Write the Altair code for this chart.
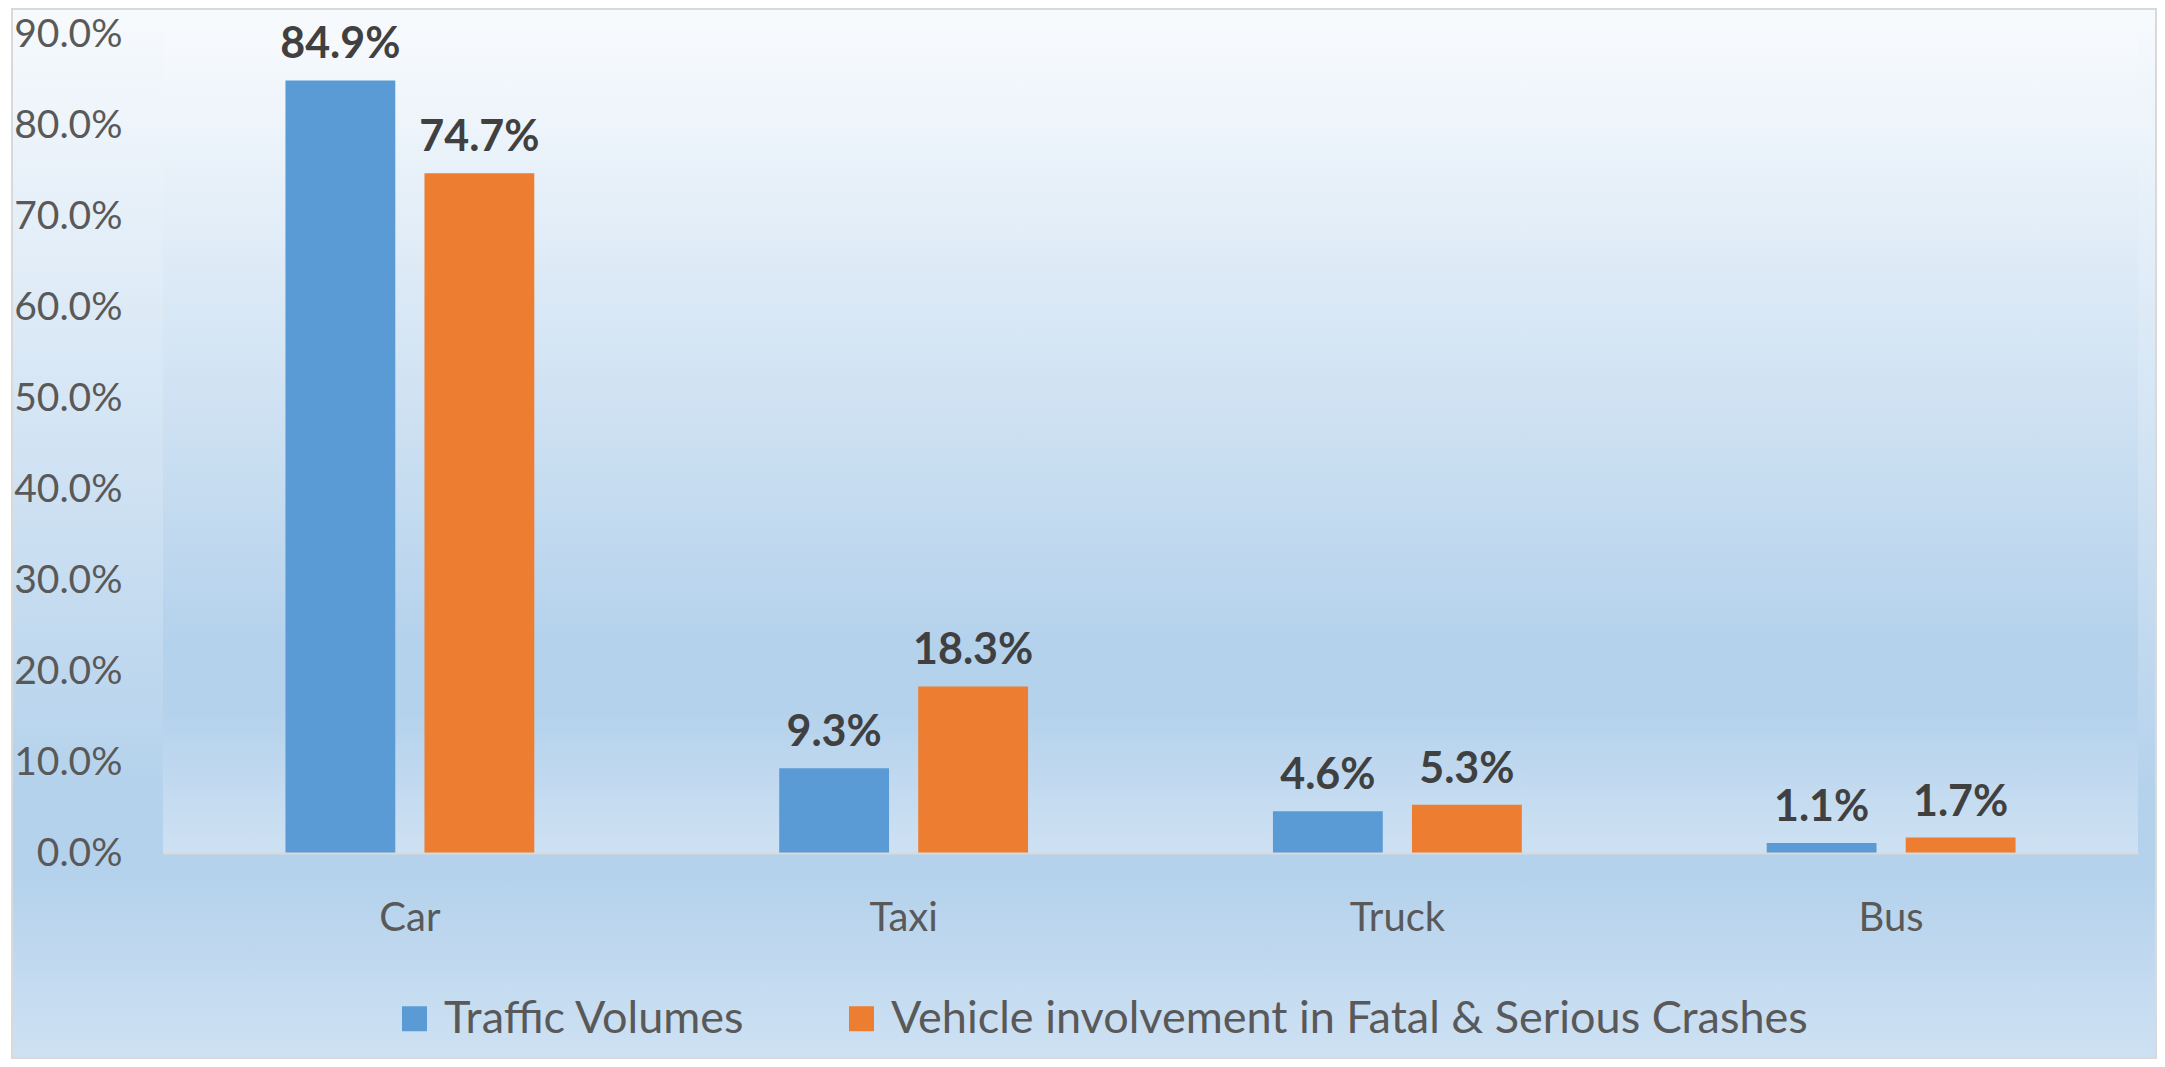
import altair as alt
import pandas as pd

categories = ["Car", "Taxi", "Truck", "Bus"]
series_names = ["Traffic Volumes", "Vehicle involvement in Fatal & Serious Crashes"]
traffic_volumes = [0.849, 0.093, 0.046, 0.011]
crash_involvement = [0.747, 0.183, 0.053, 0.017]
series_colors = ["#5B9BD5", "#ED7D31"]
y_ticks = [0.0, 0.1, 0.2, 0.3, 0.4, 0.5, 0.6, 0.7, 0.8, 0.9]

rows = []
for c, v in zip(categories, traffic_volumes):
    rows.append({"vehicle": c, "series": series_names[0], "value": v})
for c, v in zip(categories, crash_involvement):
    rows.append({"vehicle": c, "series": series_names[1], "value": v})
df = pd.DataFrame(rows)

W, H = 1975, 819
PAD = {"left": 155, "top": 26, "right": 19, "bottom": 206}

def grad():
    return alt.LinearGradient(
        gradient="linear", x1=0, y1=0, x2=0, y2=1,
        stops=[
            alt.GradientStop(offset=0, color="#F7FAFD"),
            alt.GradientStop(offset=0.74, color="#B5D2EC"),
            alt.GradientStop(offset=0.83, color="#B5D2EC"),
            alt.GradientStop(offset=1, color="#CEE1F3"),
        ],
    )

one = pd.DataFrame({"a": [0]})
outer_bg = alt.Chart(one).mark_rect(fill=grad(), stroke="#D9D9D9", strokeWidth=2).encode(
    x=alt.value(-PAD["left"] + 4), x2=alt.value(W + PAD["right"] - 1),
    y=alt.value(-PAD["top"] + 1), y2=alt.value(H + PAD["bottom"] - 1),
)
plot_bg = alt.Chart(one).mark_rect(fill=grad()).encode(
    x=alt.value(0), x2=alt.value(W), y=alt.value(0), y2=alt.value(H),
)

base = alt.Chart(df).encode(
    x=alt.X("vehicle:N", sort=categories,
            scale=alt.Scale(paddingInner=0.496, paddingOuter=0.248),
            axis=alt.Axis(title=None, labelAngle=0, labelFont="Lato", labelFontSize=40,
                          labelColor="#595959", labelPadding=45, labelBaseline="top",
                          ticks=False, tickSize=0, domainColor="#D9D9D9", domainWidth=2,
                          zindex=1)),
    xOffset=alt.XOffset("series:N", sort=series_names,
                        scale=alt.Scale(paddingInner=0.21, paddingOuter=0)),
    y=alt.Y("value:Q", scale=alt.Scale(domain=[0, 0.9], nice=False),
            axis=alt.Axis(title=None, format=".1%", values=y_ticks, labelFont="Lato",
                          labelFontSize=39, labelColor="#595959", labelPadding=41,
                          ticks=False, tickSize=0, domain=False, grid=False, zindex=1)),
)

bars = base.mark_bar().encode(
    color=alt.Color("series:N", sort=series_names,
                    scale=alt.Scale(domain=series_names, range=series_colors),
                    legend=alt.Legend(title=None, orient="none", legendX=229, legendY=962,
                                      direction="horizontal", symbolType="square",
                                      symbolSize=625, symbolStrokeWidth=0, symbolOpacity=1,
                                      labelFont="Lato", labelFontSize=45, labelColor="#595959",
                                      labelOffset=7, labelLimit=2000, columnPadding=93,
                                      padding=0, zindex=1))
)

labels = base.mark_text(font="Lato", fontWeight="bold", fontSize=43, color="#404040",
                        baseline="alphabetic", dy=-22).encode(
    text=alt.Text("value:Q", format=".1%")
)

chart = alt.layer(outer_bg, plot_bg, bars, labels).properties(
    width=W, height=H,
    autosize=alt.AutoSizeParams(type="none"),
    padding=PAD,
).configure_view(stroke=None)

chart.save("out.html", embed_options={"renderer": "svg", "actions": False})
